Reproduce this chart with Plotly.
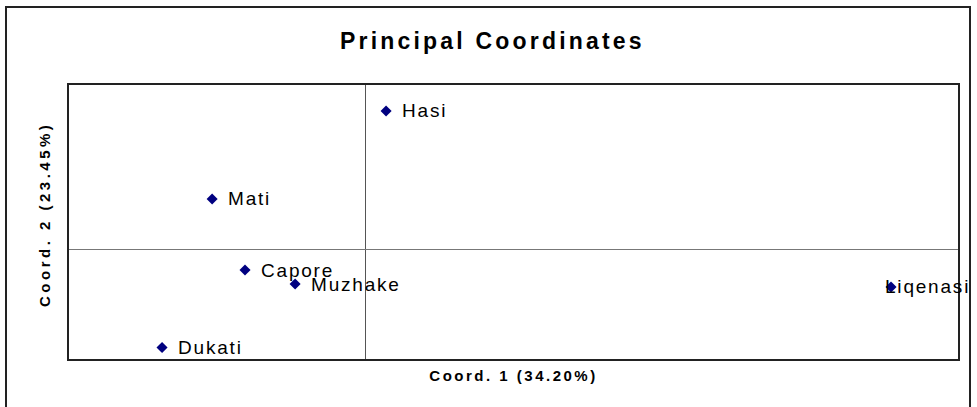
import plotly.graph_objects as go

names = ["Hasi", "Mati", "Capore", "Muzhake", "Liqenasi", "Dukati"]
coord1 = [0.070, -0.517, -0.406, -0.237, 1.774, -0.686]
coord2 = [1.263, 0.460, -0.188, -0.316, -0.343, -0.895]

title_text = "Principal Coordinates"
x_title = "Coord. 1 (34.20%)"
y_title = "Coord. 2 (23.45%)"

FONT = "Liberation Sans, Arial, sans-serif"

def spaced(t, px):
    return f"<span style='letter-spacing:{px}px'>{t}</span>"

fig = go.Figure()
fig.add_trace(go.Scatter(
    x=coord1, y=coord2, mode="markers",
    marker=dict(symbol="diamond", size=8.5, color="#000080", line=dict(width=0)),
    cliponaxis=False,
    hoverinfo="skip",
))

# label placement (style only)
label_shift = {"Liqenasi": -8}
for n, x, y in zip(names, coord1, coord2):
    fig.add_annotation(
        x=x, y=y, xref="x", yref="y", text=spaced(n, 1.8),
        showarrow=False, xanchor="left", yanchor="middle",
        xshift=label_shift.get(n, 14), yshift=0,
        font=dict(family=FONT, size=19, color="#000000"),
    )

W, H = 977, 407
ml, mr, mt, mb = 69, 19, 85, 48
pw, ph = W - ml - mr, H - mt - mb

def px_x(p):
    return (p - ml) / pw

def px_y(p):
    return (H - mb - p) / ph

fig.add_annotation(
    x=px_x(44), y=px_y(215), xref="paper", yref="paper",
    text=spaced(y_title, 3.5), textangle=-90, showarrow=False,
    xanchor="center", yanchor="middle",
    font=dict(family=FONT, size=15, color="#000000", weight="bold"),
)

fig.update_layout(
    width=W, height=H,
    margin=dict(l=ml, r=mr, t=mt, b=mb, pad=0),
    paper_bgcolor="white", plot_bgcolor="white",
    showlegend=False,
    title=dict(text=spaced(title_text, 3.2), x=0.504, xanchor="center",
               y=1 - 41 / H, yanchor="middle",
               font=dict(family=FONT, size=23, color="#000000", weight="bold")),
    xaxis=dict(range=[-1, 2], showgrid=False, showticklabels=False, ticks="",
               zeroline=True, zerolinecolor="#555555", zerolinewidth=1,
               showline=True, linecolor="#222222", linewidth=2, mirror=True,
               title=dict(text=spaced(x_title, 2.5), standoff=10,
                          font=dict(family=FONT, size=15, color="#000000", weight="bold"))),
    yaxis=dict(range=[-1, 1.5], showgrid=False, showticklabels=False, ticks="",
               zeroline=True, zerolinecolor="#777777", zerolinewidth=1,
               showline=True, linecolor="#222222", linewidth=2, mirror=True),
    shapes=[dict(type="rect", xref="paper", yref="paper",
                 x0=px_x(6), x1=px_x(970), y0=px_y(410), y1=px_y(7),
                 line=dict(color="#222222", width=2), fillcolor="rgba(0,0,0,0)", layer="below")],
)

fig.write_html("out.html", config={"displayModeBar": False},
               post_script="document.body.style.margin='0';document.body.style.overflow='hidden';")
